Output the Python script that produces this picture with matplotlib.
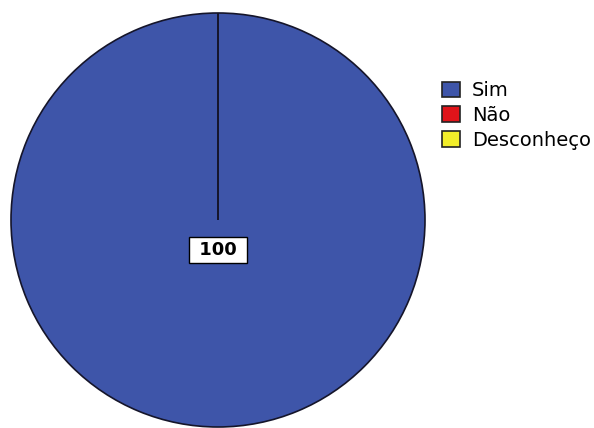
import matplotlib.pyplot as plt
from matplotlib.patches import Patch

plt.rcParams['font.family'] = ['DejaVu Sans']

# data
labels = ['Sim', 'Não', 'Desconheço']
values = [100, 0, 0]
colors = ['#3E55A9', '#E0141A', '#F2EE2A']

fig = plt.figure(figsize=(5.94, 4.28), dpi=100)
ax = fig.add_axes([11 / 594, 1 / 428, 414 / 594, 414 / 428])

ax.pie(values, colors=colors, startangle=90, counterclock=False,
       wedgeprops=dict(edgecolor='#15152a', linewidth=1.2))
ax.set_xlim(-1.0, 1.0)
ax.set_ylim(-1.0, 1.0)
ax.set_aspect('equal')
ax.axis('off')

# value label
ax.text(0.0, -0.145, ' ' + str(values[0]) + ' ', ha='center', va='center', fontsize=13,
        fontweight='bold',
        bbox=dict(boxstyle='square,pad=0.2', facecolor='white', edgecolor='black', linewidth=1))

handles = [Patch(facecolor=c, edgecolor='#222222', linewidth=1.2) for c in colors]
fig.legend(handles, labels, loc='upper left', bbox_to_anchor=(442 / 594, 1 - 81 / 428),
           frameon=False, fontsize=14, handlelength=0.95, handleheight=0.85,
           handletextpad=0.6, labelspacing=0.3, borderaxespad=0, borderpad=0)

fig.savefig('out.png', dpi=100)
